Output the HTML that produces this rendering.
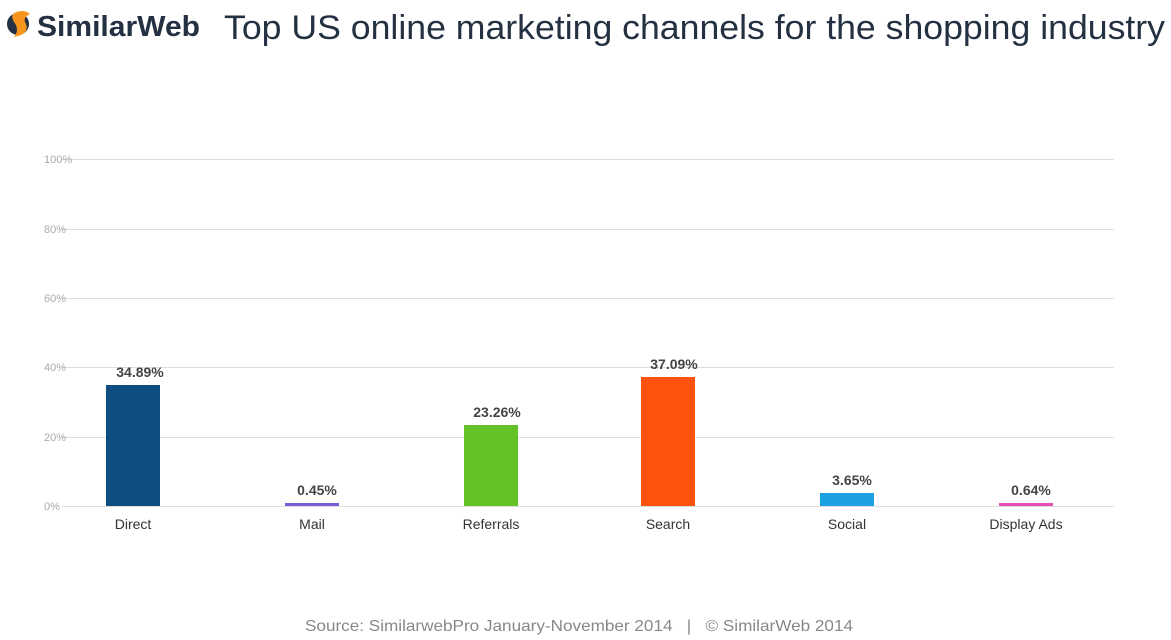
<!DOCTYPE html>
<html><head><meta charset="utf-8"><style>
body{margin:0;width:1171px;height:640px;background:#fff;position:relative;overflow:hidden;font-family:"Liberation Sans","DejaVu Sans",sans-serif}
.a{position:absolute;white-space:nowrap}
</style></head><body>
<svg class="a" style="left:0;top:0" width="1171" height="640" font-family="Liberation Sans,sans-serif">
<circle cx="18" cy="24" r="11" fill="#243142"/>
<path d="M22 11 Q8 12 14 22 Q20 30 14 37 Q30 34 26 24 Q22 18 30 14 Q27 11 22 11Z" fill="#f7941d"/>
<text x="37" y="36" font-size="29" font-weight="bold" fill="#243142" textLength="163" lengthAdjust="spacingAndGlyphs">SimilarWeb</text>
<text x="224" y="39" font-size="34" fill="#243142" textLength="941" lengthAdjust="spacingAndGlyphs">Top US online marketing channels for the shopping industry</text>
<text x="305" y="631" font-size="16" fill="#888" textLength="548" lengthAdjust="spacingAndGlyphs">Source: SimilarwebPro January-November 2014  &#160;&#160;|  &#160;&#160;© SimilarWeb 2014</text>
<g stroke="#dddddd" stroke-width="1">
<line x1="62" x2="1114" y1="159.5" y2="159.5"/>
<line x1="62" x2="1114" y1="229.5" y2="229.5"/>
<line x1="62" x2="1114" y1="298.5" y2="298.5"/>
<line x1="62" x2="1114" y1="367.5" y2="367.5"/>
<line x1="62" x2="1114" y1="437.5" y2="437.5"/>
<line x1="62" x2="1114" y1="506.5" y2="506.5"/>
</g>
<g font-size="11" fill="#aaa">
<text x="44" y="163">100%</text><text x="44" y="233">80%</text><text x="44" y="302">60%</text>
<text x="44" y="371">40%</text><text x="44" y="441">20%</text><text x="44" y="510">0%</text>
</g>
<rect x="106" y="385" width="54" height="121" fill="#0d4d82"/>
<rect x="285" y="503" width="54" height="3" fill="#7b5cd6"/>
<rect x="464" y="425" width="54" height="81" fill="#62c227"/>
<rect x="641" y="377" width="54" height="129" fill="#ff530d"/>
<rect x="820" y="493" width="54" height="13" fill="#1ca0e4"/>
<rect x="999" y="503" width="54" height="3" fill="#e84cb6"/>
<g font-size="14" font-weight="bold" fill="#444" text-anchor="middle">
<text x="140" y="377">34.89%</text><text x="317" y="495">0.45%</text>
<text x="497" y="417">23.26%</text><text x="674" y="369">37.09%</text>
<text x="852" y="485">3.65%</text><text x="1031" y="495">0.64%</text>
</g>
<g font-size="14" fill="#333" text-anchor="middle">
<text x="133" y="529">Direct</text><text x="312" y="529">Mail</text>
<text x="491" y="529">Referrals</text><text x="668" y="529">Search</text>
<text x="847" y="529">Social</text><text x="1026" y="529">Display Ads</text>
</g>
</svg>
</body></html>
